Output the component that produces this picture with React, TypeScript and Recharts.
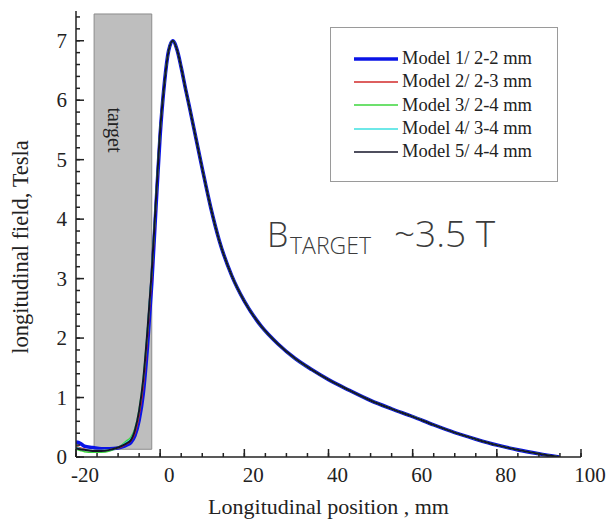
import React from 'react';
import { LineChart, Line, XAxis, YAxis, ReferenceArea, Legend, Customized } from 'recharts';

const headPositions = [-20, -19, -18, -16, -14, -12, -10, -9, -8, -7, -6, -5, -4, -3, -2, -1, 0];
const tailPositions = [1, 2, 3, 4, 5, 6, 7, 8, 10, 12, 14, 17, 20, 24, 28, 32, 36, 40, 45, 50, 55, 60, 65, 70, 75, 80, 85, 90, 94.8];

// the five models only separate inside the target, after that they sit on top of each other
const model1Head = [0.25, 0.23, 0.18, 0.16, 0.14, 0.14, 0.15, 0.17, 0.2, 0.24, 0.36, 0.62, 1.08, 1.88, 2.92, 4.2, 5.42];
const model2Head = [0.18, 0.15, 0.13, 0.11, 0.11, 0.12, 0.15, 0.18, 0.22, 0.27, 0.4, 0.7, 1.2, 2.02, 3.02, 4.27, 5.47];
const model3Head = [0.13, 0.11, 0.09, 0.08, 0.08, 0.1, 0.16, 0.21, 0.27, 0.33, 0.48, 0.8, 1.33, 2.15, 3.12, 4.33, 5.5];
const model4Head = [0.17, 0.14, 0.12, 0.11, 0.11, 0.12, 0.16, 0.2, 0.25, 0.3, 0.46, 0.78, 1.32, 2.15, 3.12, 4.33, 5.5];
const model5Head = [0.15, 0.13, 0.12, 0.1, 0.1, 0.12, 0.16, 0.19, 0.23, 0.28, 0.45, 0.78, 1.32, 2.15, 3.12, 4.33, 5.5];
const sharedTail = [6.28, 6.83, 7.0, 6.85, 6.55, 6.2, 5.87, 5.53, 4.85, 4.2, 3.65, 3.05, 2.62, 2.2, 1.9, 1.66, 1.47, 1.3, 1.12, 0.95, 0.81, 0.68, 0.54, 0.41, 0.3, 0.2, 0.12, 0.055, 0];

const modelNames = ['Model 1/ 2-2 mm', 'Model 2/ 2-3 mm', 'Model 3/ 2-4 mm', 'Model 4/ 3-4 mm', 'Model 5/ 4-4 mm'];
const modelColors = ['#0a14e6', '#d22a2a', '#3cd63c', '#3ee0e0', '#141428'];
const modelWidths = [3.6, 1.5, 1.5, 1.5, 2];

const xMajorTicks = [-20, 0, 20, 40, 60, 80, 100];
const yMajorTicks = [0, 1, 2, 3, 4, 5, 6, 7];
const xTicks = Array.from({ length: 25 }, (_, i) => -20 + i * 5);
const yTicks = Array.from({ length: 38 }, (_, i) => Math.round(i * 2) / 10);

const targetRange = { x1: -15.7, x2: -2, y1: 0.13, y2: 7.45 };

const heads = [model1Head, model2Head, model3Head, model4Head, model5Head];
const positions = [...headPositions, ...tailPositions];
const data = positions.map((x, i) => {
  const row: Record<string, number> = { x };
  heads.forEach((h, m) => {
    row[`m${m + 1}`] = i < h.length ? h[i] : sharedTail[i - h.length];
  });
  return row;
});

const serif = '"Liberation Serif", "Times New Roman", serif';
const ink = '#222';
const MINOR = 4;

const isMajorY = (v: number) => yMajorTicks.some(t => Math.abs(t - v) < 1e-6);

// text x/y arrive one tick length inside the frame (tickMargin 0)
const BottomTick = (props: any) => {
  const { x, y, payload } = props;
  const major = xMajorTicks.includes(payload.value);
  const axisY = y + MINOR;
  return (
    <g>
      {major && <path d={`M${x},${axisY}V${axisY - 8}`} stroke={ink} strokeWidth={1.5} fill="none" />}
      {major && (
        <text x={x + 9} y={axisY + 25} textAnchor="middle" fontFamily={serif} fontSize={21} fill={ink}>
          {payload.value}
        </text>
      )}
    </g>
  );
};

const TopTick = (props: any) => {
  const { x, y, payload } = props;
  const major = xMajorTicks.includes(payload.value);
  const axisY = y - MINOR;
  return major ? <path d={`M${x},${axisY}V${axisY + 8}`} stroke={ink} strokeWidth={1.5} fill="none" /> : <g />;
};

const LeftTick = (props: any) => {
  const { x, y, payload } = props;
  const major = isMajorY(payload.value);
  const axisX = x - MINOR;
  return (
    <g>
      {major && <path d={`M${axisX},${y}H${axisX + 8}`} stroke={ink} strokeWidth={1.5} fill="none" />}
      {major && (
        <text x={axisX - 9} y={y} dy="0.34em" textAnchor="end" fontFamily={serif} fontSize={21} fill={ink}>
          {payload.value}
        </text>
      )}
    </g>
  );
};

const RightTick = (props: any) => {
  const { x, y, payload } = props;
  const major = isMajorY(payload.value);
  const axisX = x + MINOR;
  return major ? <path d={`M${axisX},${y}H${axisX - 8}`} stroke={ink} strokeWidth={1.5} fill="none" /> : <g />;
};

const YTitle = (props: any) => {
  const { viewBox } = props;
  const cx = viewBox.x + 19;
  const cy = viewBox.y + viewBox.height / 2 + 13;
  return (
    <text x={cx} y={cy} transform={`rotate(-90, ${cx}, ${cy})`} textAnchor="middle" dominantBaseline="central"
      fontFamily={serif} fontSize={22.5} fill={ink}>
      longitudinal field, Tesla
    </text>
  );
};

const TargetLabel = (props: any) => {
  const { viewBox } = props;
  const cx = viewBox.x + viewBox.width / 2 - 8;
  const cy = viewBox.y + 116;
  return (
    <text x={cx} y={cy} transform={`rotate(90, ${cx}, ${cy})`} textAnchor="middle" dominantBaseline="central"
      fontFamily={serif} fontSize={20} fill={ink}>
      target
    </text>
  );
};

const LegendBox = () => (
  <div style={{ border: '1px solid #9a9a9a', background: '#fff', width: 226, height: 134, boxSizing: 'content-box', paddingTop: 19 }}>
    {modelNames.map((name, i) => (
      <div key={name} style={{ display: 'flex', alignItems: 'center', height: 23.3 }}>
        <svg width={67} height={10} style={{ flex: 'none' }}>
          <line x1={23} x2={67} y1={5} y2={5} stroke={modelColors[i]} strokeWidth={i === 0 ? 3.4 : 1.6} />
        </svg>
        <span style={{ fontFamily: serif, fontSize: 18.5, color: ink, marginLeft: 4, lineHeight: '23px' }}>{name}</span>
      </div>
    ))}
  </div>
);

const Annotation = () => (
  <text fontFamily='"Open Sans", "Noto Sans", sans-serif' fontWeight={300} fill="#3c3c3c">
    <tspan x={267} y={247} fontSize={34}>B</tspan>
    <tspan x={290} y={254} fontSize={23}>TARGET</tspan>
    <tspan x={394} y={247} fontSize={37}>~3.5 T</tspan>
  </text>
);

const axisLine = { stroke: ink, strokeWidth: 1.5 };
const tickLine = { stroke: ink, strokeWidth: 1.5 };

export default function App() {
  return (
    <div style={{ position: 'absolute', left: 0, top: 0, width: 607, height: 524, background: '#fff' }}>
      <LineChart width={607} height={524} data={data} margin={{ top: 11, right: 26, bottom: 0, left: 1 }}>
        <ReferenceArea
          x1={targetRange.x1}
          x2={targetRange.x2}
          y1={targetRange.y1}
          y2={targetRange.y2}
          fill="#bebebe"
          fillOpacity={1}
          stroke="#8c8c8c"
          strokeWidth={1}
          label={<TargetLabel />}
        />
        <XAxis
          dataKey="x"
          type="number"
          domain={[-20, 100]}
          ticks={xTicks}
          interval={0}
          allowDataOverflow
          height={67}
          tickSize={-MINOR}
          tickMargin={0}
          tickLine={tickLine}
          tick={<BottomTick />}
          axisLine={axisLine}
          label={{ value: 'Longitudinal position , mm', position: 'insideBottom', offset: 10, fontFamily: serif, fontSize: 22, fill: ink }}
        />
        <XAxis
          xAxisId="top"
          orientation="top"
          dataKey="x"
          type="number"
          domain={[-20, 100]}
          ticks={xTicks}
          interval={0}
          allowDataOverflow
          height={0}
          tickSize={-MINOR}
          tickMargin={0}
          tickLine={tickLine}
          tick={<TopTick />}
          axisLine={axisLine}
        />
        <YAxis
          type="number"
          domain={[0, 7.5]}
          ticks={yTicks}
          interval={0}
          allowDataOverflow
          width={75}
          tickSize={-MINOR}
          tickMargin={0}
          tickLine={tickLine}
          tick={<LeftTick />}
          axisLine={axisLine}
          label={<YTitle />}
        />
        <YAxis
          yAxisId="right"
          orientation="right"
          type="number"
          domain={[0, 7.5]}
          ticks={yTicks}
          interval={0}
          allowDataOverflow
          width={0}
          tickSize={-MINOR}
          tickMargin={0}
          tickLine={tickLine}
          tick={<RightTick />}
          axisLine={axisLine}
        />
        {modelNames.map((name, i) => (
          <Line
            key={name}
            dataKey={`m${i + 1}`}
            name={name}
            type="monotone"
            stroke={modelColors[i]}
            strokeWidth={modelWidths[i]}
            dot={false}
            activeDot={false}
            isAnimationActive={false}
          />
        ))}
        <Legend
          layout="vertical"
          align="center"
          verticalAlign="middle"
          content={<LegendBox />}
          wrapperStyle={{ left: 330, top: 27, width: 228, height: 156 }}
        />
        <Customized component={Annotation} />
      </LineChart>
    </div>
  );
}
